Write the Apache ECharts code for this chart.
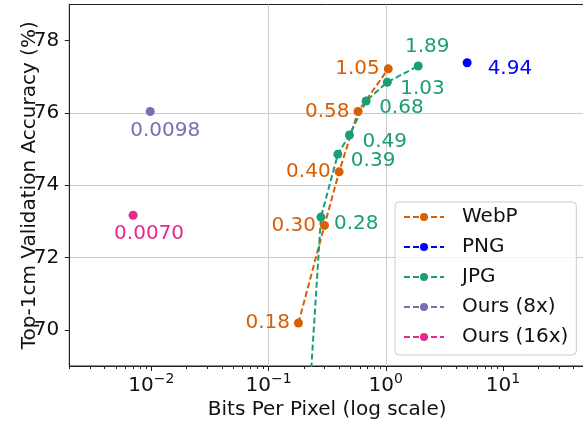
<!DOCTYPE html>
<html><head><meta charset="utf-8">
<script src="https://cdn.jsdelivr.net/npm/echarts@6/dist/echarts.min.js"></script>
<style>html,body{margin:0;padding:0;background:#fff}#c{width:583px;height:423px}</style>
</head><body><div id="c"></div>
<script>
// ---- data ----
const webpBpp = [0.18, 0.30, 0.40, 0.58, 1.05];
const webpAcc = [70.19, 72.89, 74.37, 76.04, 77.22];
const pngBpp = [4.94];
const pngAcc = [77.39];
const jpgBpp = [0.20, 0.28, 0.39, 0.49, 0.68, 1.03, 1.89];
const jpgAcc = [65.7, 73.12, 74.86, 75.39, 76.33, 76.85, 77.30];
const ours8Bpp = [0.0098];
const ours8Acc = [76.04];
const ours16Bpp = [0.0070];
const ours16Acc = [73.17];
const xMajorTicks = [0.01, 0.1, 1, 10];
const yTicks = [70, 72, 74, 76, 78];
const xMin = 0.002, xMax = 50, yMin = 69, yMax = 79;
const xTitle = 'Bits Per Pixel (log scale)';
const yTitle = 'Top-1cm Validation Accuracy (%)';

// minor ticks (2..9 x 10^k) inside the range
const xMinorTicks = [];
for (let e = -3; e <= 1; e++) for (let k = 2; k <= 9; k++) {
  const v = +(k * Math.pow(10, e)).toPrecision(6);
  if (v >= xMin && v <= xMax) xMinorTicks.push(v);
}

const FONT = 'DejaVu Sans';
const TXT = '#111';
const AX = '#222';
const GRIDC = '#cbcbcb';

function mk(name, color, bpp, acc, dec, label, itemLabel) {
  return {
    name, type: 'line',
    data: bpp.map((b, i) => {
      const d = { value: [b, acc[i]] };
      if (acc[i] < yMin) d.label = { show: false };
      if (itemLabel && itemLabel[i]) d.label = itemLabel[i];
      return d;
    }),
    symbol: 'circle', symbolSize: 9, showSymbol: true,
    lineStyle: { color, width: 2, type: [6, 3] },
    itemStyle: { color },
    emphasis: { disabled: true },
    clip: true,
    label: Object.assign({
      show: true, color, fontSize: 20, fontFamily: FONT,
      formatter: p => p.value[0].toFixed(dec)
    }, label)
  };
}

const jpgItemLabel = [];
jpgItemLabel[6] = { position: 'top', distance: 5, offset: [9, 0] };

const chart = echarts.init(document.getElementById('c'), null, { renderer: 'canvas' });
chart.setOption({
  animation: false,
  backgroundColor: '#fff',
  textStyle: { fontFamily: FONT },
  grid: {
    left: 69.3, right: -2, top: 4.5, bottom: 57,
    containLabel: false, outerBoundsMode: 'none',
    show: true, borderColor: AX, borderWidth: 1, backgroundColor: 'transparent'
  },
  xAxis: [{
    type: 'log', logBase: 10, min: xMin, max: xMax,
    name: xTitle, nameLocation: 'middle', nameGap: 34, nameMoveOverlap: false,
    nameTextStyle: { fontSize: 20, color: TXT, fontFamily: FONT },
    axisLine: { show: true, lineStyle: { color: AX, width: 1 } },
    axisTick: { show: true, inside: false, length: 5, customValues: xMajorTicks, lineStyle: { color: AX } },
    axisLabel: {
      customValues: xMajorTicks, margin: 6, color: TXT,
      formatter: v => {
        const e = Math.round(Math.log10(v));
        return '{b|10}{s|' + (e < 0 ? '\u2212' : '') + Math.abs(e) + '}';
      },
      rich: {
        b: { fontSize: 20, lineHeight: 24, fontFamily: FONT, color: TXT, verticalAlign: 'bottom' },
        s: { fontSize: 14, lineHeight: 14, fontFamily: FONT, color: TXT, verticalAlign: 'top' }
      }
    },
    splitLine: { show: true, showMinLine: false, showMaxLine: false, lineStyle: { color: GRIDC, width: 1 } }
  }, {
    type: 'log', logBase: 10, min: xMin, max: xMax, position: 'bottom',
    axisLine: { show: false },
    axisTick: { show: true, inside: false, length: 3, customValues: xMinorTicks, lineStyle: { color: AX } },
    axisLabel: { show: false },
    splitLine: { show: false }
  }],
  yAxis: {
    type: 'value', min: yMin, max: yMax,
    name: yTitle, nameLocation: 'middle', nameGap: 30, nameMoveOverlap: false,
    nameTextStyle: { fontSize: 20, color: TXT, fontFamily: FONT },
    axisLine: { show: true, lineStyle: { color: AX, width: 1 } },
    axisTick: { show: true, inside: false, length: 4.5, customValues: yTicks, lineStyle: { color: AX } },
    axisLabel: { customValues: yTicks, margin: 10, fontSize: 20, color: TXT, fontFamily: FONT },
    splitLine: { show: true, showMinLine: false, showMaxLine: false, lineStyle: { color: GRIDC, width: 1 } }
  },
  legend: {
    orient: 'vertical', left: 395, top: 202,
    data: ['WebP', 'PNG', 'JPG', 'Ours (8x)', 'Ours (16x)'],
    itemWidth: 40, itemHeight: 10, itemGap: 10,
    padding: [5, 8, 8, 8],
    backgroundColor: 'rgba(255,255,255,0.8)',
    borderColor: '#cccccc', borderWidth: 1, borderRadius: 4,
    textStyle: { fontSize: 20, lineHeight: 20, color: TXT, fontFamily: FONT, padding: [0, 0, 0, 13] },
    selectedMode: false
  },
  series: [
    mk('WebP', '#d95f02', webpBpp, webpAcc, 2, { position: 'left', distance: 4 }),
    mk('PNG', '#0000ff', pngBpp, pngAcc, 2, { position: 'right', distance: 16, offset: [0, 6] }),
    mk('JPG', '#1b9e77', jpgBpp, jpgAcc, 2, { position: 'right', distance: 8.5, offset: [0, 7] }, jpgItemLabel),
    mk('Ours (8x)', '#7570b3', ours8Bpp, ours8Acc, 4, { position: 'bottom', distance: 4.5, offset: [15, 0] }),
    mk('Ours (16x)', '#e7298a', ours16Bpp, ours16Acc, 4, { position: 'bottom', distance: 4, offset: [16, 0] })
  ]
});
</script></body></html>
